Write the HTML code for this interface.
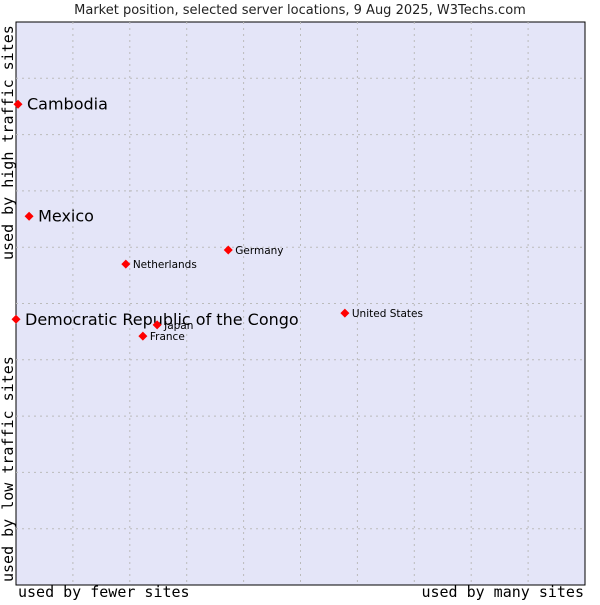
<!DOCTYPE html>
<html><head><meta charset="utf-8"><style>
body{margin:0;background:#fff;width:600px;height:600px;overflow:hidden}
svg text{font-family:"DejaVu Sans","Liberation Sans",sans-serif}
.mono{font-family:"DejaVu Sans Mono","Liberation Mono",monospace}
</style></head><body>
<svg id="chart" width="600" height="600">
<text x="300" y="14" text-anchor="middle" font-size="13" fill="#222">Market position, selected server locations, 9 Aug 2025, W3Techs.com</text>
<rect x="16" y="22" width="569" height="563" fill="#e4e5f8" stroke="#000" stroke-width="1"/>
<g id="grid"></g>
<g id="points"></g>
<text class="mono" x="18" y="597" font-size="15" fill="#000">used by fewer sites</text>
<text class="mono" x="584" y="597" text-anchor="end" font-size="15" fill="#000">used by many sites</text>
<text class="mono" transform="translate(13,582) rotate(-90)" font-size="15" fill="#000">used by low traffic sites</text>
<text class="mono" transform="translate(13,260) rotate(-90)" font-size="15" fill="#000">used by high traffic sites</text>
</svg>
<script>
const countries=["Cambodia","Mexico","Democratic Republic of the Congo","Netherlands","Germany","United States","Japan","France"];
const xValues=[0.35,2.3,0,19.3,37.3,57.8,24.8,22.3];
const yValues=[85.4,65.5,47.2,57.0,59.5,48.3,46.2,44.2];
const highlighted=[true,true,true,false,false,false,false,false];
const gridSteps=[1,2,3,4,5,6,7,8,9];
const L=16,T=22,W=569,H=563;
const sx=v=>L+v/100*W, sy=v=>T+H-v/100*H;
const NS="http://www.w3.org/2000/svg";
const g=document.getElementById('grid'), p=document.getElementById('points');
gridSteps.forEach(s=>{
 const x=L+s*W/10, y=T+s*H/10;
 const v=document.createElementNS(NS,'line');
 v.setAttribute('x1',x);v.setAttribute('x2',x);v.setAttribute('y1',T);v.setAttribute('y2',T+H);
 v.setAttribute('stroke','#bbb');v.setAttribute('stroke-dasharray','2,4');
 
 
 g.appendChild(v);
 const h=document.createElementNS(NS,'line');
 h.setAttribute('x1',L);h.setAttribute('x2',L+W);h.setAttribute('y1',y);h.setAttribute('y2',y);
 h.setAttribute('stroke','#bbb');h.setAttribute('stroke-dasharray','2,4');
 
 
 g.appendChild(h);
});
countries.forEach((c,i)=>{
 const x=sx(xValues[i]), y=sy(yValues[i]);
 const d=document.createElementNS(NS,'polygon');
 d.setAttribute('points',`${x},${y-4.5} ${x+4.5},${y} ${x},${y+4.5} ${x-4.5},${y}`);
 d.setAttribute('fill','#f00');
 
 
 p.appendChild(d);
 const t=document.createElementNS(NS,'text');
 const big=highlighted[i];
 t.setAttribute('x',x+(big?9:7));t.setAttribute('y',y+(big?5.5:4));
 t.setAttribute('font-size',big?16:10.5);t.setAttribute('fill','#000');
 t.textContent=c;
 
 
 p.appendChild(t);
});
</script>
</body></html>
